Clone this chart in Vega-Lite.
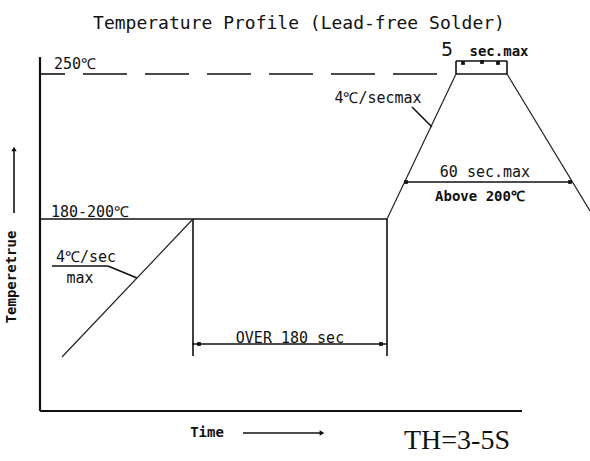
{
  "$schema": "https://vega.github.io/schema/vega-lite/v6.json",
  "width": 590,
  "height": 461,
  "padding": 0,
  "autosize": "none",
  "background": "white",
  "config": {"view": {"stroke": null}},
  "datasets": {
    "segs": [
      {"g": "axis", "x": 40, "y": 57, "x2": 40, "y2": 411},
      {"g": "axis", "x": 40, "y": 411, "x2": 522, "y2": 411},
      {"g": "line", "x": 40, "y": 219, "x2": 387, "y2": 219},
      {"g": "line", "x": 193, "y": 219, "x2": 193, "y2": 356},
      {"g": "line", "x": 387, "y": 219, "x2": 387, "y2": 356},
      {"g": "line", "x": 192, "y": 344, "x2": 387, "y2": 344},
      {"g": "line", "x": 406, "y": 182, "x2": 570, "y2": 182},
      {"g": "line", "x": 456, "y": 61, "x2": 507, "y2": 61},
      {"g": "line", "x": 456, "y": 74, "x2": 507, "y2": 74},
      {"g": "line", "x": 456, "y": 61, "x2": 456, "y2": 74},
      {"g": "line", "x": 507, "y": 61, "x2": 507, "y2": 74},
      {"g": "line", "x": 52, "y": 266, "x2": 108, "y2": 266},
      {"g": "line", "x": 108, "y": 266, "x2": 137, "y2": 278},
      {"g": "line", "x": 412, "y": 107, "x2": 432, "y2": 127},
      {"g": "line", "x": 14, "y": 150, "x2": 14, "y2": 213},
      {"g": "line", "x": 243, "y": 433, "x2": 320, "y2": 433},
      {"g": "line", "x": 40, "y": 74, "x2": 65, "y2": 74},
      {"g": "ramp", "x": 62, "y": 357, "x2": 193, "y2": 219},
      {"g": "ramp", "x": 387, "y": 219, "x2": 456, "y2": 74},
      {"g": "ramp", "x": 507, "y": 74, "x2": 590, "y2": 211},
      {"g": "dash", "x": 83, "y": 74, "x2": 437, "y2": 74}
    ],
    "pts": [
      {"g": "up", "x": 14, "y": 149},
      {"g": "right", "x": 322, "y": 433},
      {"g": "sq", "x": 406, "y": 182},
      {"g": "sq", "x": 570, "y": 182},
      {"g": "sq", "x": 199, "y": 344},
      {"g": "sq", "x": 381, "y": 344},
      {"g": "sq", "x": 463, "y": 63},
      {"g": "sq", "x": 482, "y": 62},
      {"g": "sq", "x": 498, "y": 63}
    ],
    "labels": [
      {"g": "title", "t": "Temperature Profile (Lead-free Solder)", "x": 299, "y": 24},
      {"g": "mono", "t": "250℃", "x": 75, "y": 64},
      {"g": "mono", "t": "180-200℃", "x": 90, "y": 212},
      {"g": "mono", "t": "4℃/sec", "x": 86, "y": 257},
      {"g": "mono", "t": "4℃/secmax", "x": 378, "y": 98},
      {"g": "mono", "t": "60 sec.max", "x": 485, "y": 172},
      {"g": "mono", "t": "OVER 180 sec", "x": 290, "y": 338},
      {"g": "max", "t": "max", "x": 80, "y": 278},
      {"g": "bold", "t": "Above 200℃", "x": 480, "y": 197},
      {"g": "bold", "t": "sec.max", "x": 499, "y": 52},
      {"g": "bold", "t": "Time", "x": 207, "y": 433},
      {"g": "five", "t": "5", "x": 447, "y": 50},
      {"g": "ylab", "t": "Temperetrue", "x": 12, "y": 277},
      {"g": "th", "t": "TH=3-5S", "x": 457, "y": 441}
    ]
  },
  "encoding": {
    "x": {"field": "x", "type": "quantitative", "scale": {"domain": [0, 590], "nice": false, "zero": false}, "axis": null},
    "y": {"field": "y", "type": "quantitative", "scale": {"domain": [0, 461], "nice": false, "zero": false, "reverse": true}, "axis": null}
  },
  "layer": [
    {"data": {"name": "segs"}, "transform": [{"filter": "datum.g === 'axis'"}],
     "mark": {"type": "rule", "strokeWidth": 2.2, "color": "#111"},
     "encoding": {"x2": {"field": "x2"}, "y2": {"field": "y2"}}},
    {"data": {"name": "segs"}, "transform": [{"filter": "datum.g === 'line'"}],
     "mark": {"type": "rule", "strokeWidth": 1.6, "color": "#111"},
     "encoding": {"x2": {"field": "x2"}, "y2": {"field": "y2"}}},
    {"data": {"name": "segs"}, "transform": [{"filter": "datum.g === 'ramp'"}],
     "mark": {"type": "rule", "strokeWidth": 1.2, "color": "#222"},
     "encoding": {"x2": {"field": "x2"}, "y2": {"field": "y2"}}},
    {"data": {"name": "segs"}, "transform": [{"filter": "datum.g === 'dash'"}],
     "mark": {"type": "rule", "strokeWidth": 1.6, "color": "#111", "strokeDash": [44, 18]},
     "encoding": {"x2": {"field": "x2"}, "y2": {"field": "y2"}}},
    {"data": {"name": "pts"}, "transform": [{"filter": "datum.g === 'up'"}],
     "mark": {"type": "point", "shape": "triangle-up", "filled": true, "size": 30, "color": "#111", "opacity": 1}},
    {"data": {"name": "pts"}, "transform": [{"filter": "datum.g === 'right'"}],
     "mark": {"type": "point", "shape": "triangle-right", "filled": true, "size": 30, "color": "#111", "opacity": 1}},
    {"data": {"name": "pts"}, "transform": [{"filter": "datum.g === 'sq'"}],
     "mark": {"type": "point", "shape": "square", "filled": true, "size": 14, "color": "#111", "opacity": 1}},
    {"data": {"name": "labels"}, "transform": [{"filter": "datum.g === 'title'"}],
     "mark": {"type": "text", "font": "DejaVu Sans Mono", "fontSize": 18, "color": "#111", "align": "center", "baseline": "middle"},
     "encoding": {"text": {"field": "t"}}},
    {"data": {"name": "labels"}, "transform": [{"filter": "datum.g === 'mono'"}],
     "mark": {"type": "text", "font": "DejaVu Sans Mono", "fontSize": 15, "color": "#111", "align": "center", "baseline": "middle"},
     "encoding": {"text": {"field": "t"}}},
    {"data": {"name": "labels"}, "transform": [{"filter": "datum.g === 'max'"}],
     "mark": {"type": "text", "font": "DejaVu Sans Mono", "fontSize": 15, "color": "#111", "align": "center", "baseline": "middle"},
     "encoding": {"text": {"field": "t"}}},
    {"data": {"name": "labels"}, "transform": [{"filter": "datum.g === 'bold'"}],
     "mark": {"type": "text", "font": "DejaVu Sans Mono", "fontSize": 14, "fontWeight": "bold", "color": "#111", "align": "center", "baseline": "middle"},
     "encoding": {"text": {"field": "t"}}},
    {"data": {"name": "labels"}, "transform": [{"filter": "datum.g === 'five'"}],
     "mark": {"type": "text", "font": "DejaVu Sans", "fontSize": 19, "color": "#111", "align": "center", "baseline": "middle"},
     "encoding": {"text": {"field": "t"}}},
    {"data": {"name": "labels"}, "transform": [{"filter": "datum.g === 'ylab'"}],
     "mark": {"type": "text", "font": "DejaVu Sans Mono", "fontSize": 14, "fontWeight": "bold", "angle": 270, "color": "#111", "align": "center", "baseline": "middle"},
     "encoding": {"text": {"field": "t"}}},
    {"data": {"name": "labels"}, "transform": [{"filter": "datum.g === 'th'"}],
     "mark": {"type": "text", "font": "Liberation Serif", "fontSize": 28, "color": "#111", "align": "center", "baseline": "middle"},
     "encoding": {"text": {"field": "t"}}}
  ]
}
